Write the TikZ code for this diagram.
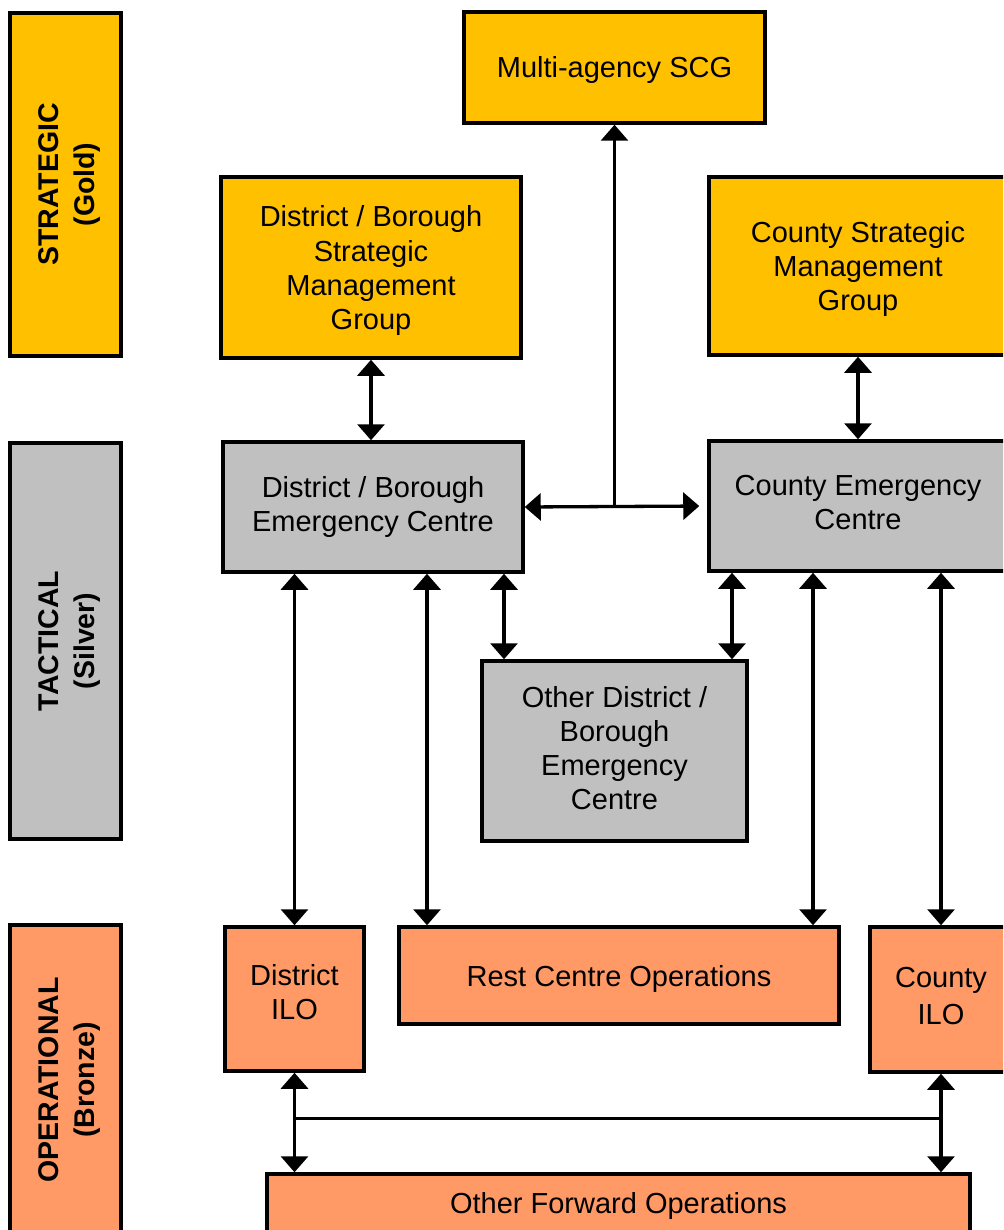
\documentclass[tikz,border=0pt]{standalone}
\usepackage{fontspec}
\setmainfont{Liberation Sans}
\usetikzlibrary{arrows.meta,calc}
\definecolor{goldc}{HTML}{FFC000}
\definecolor{silverc}{HTML}{C0C0C0}
\definecolor{bronzec}{HTML}{FF9966}
\newcommand{\topstrut}{\rule{0pt}{28pt}}
\tikzset{
  box/.style={draw=black, line width=3.5pt, rectangle, align=center, inner sep=0pt,
    font=\fontsize{29}{34}\selectfont,
    execute at begin node={\rule{0pt}{28pt}},
    execute at end node={\rule[-7pt]{0pt}{0pt}}},
  goldbox/.style={box, fill=goldc},
  silverbox/.style={box, fill=silverc},
  bronzebox/.style={box, fill=bronzec},
  tierbox/.style={draw=black, line width=3.5pt, rectangle, inner sep=0pt, minimum width=111pt},
  tierlabel/.style={xshift=4pt, rotate=90, align=center, inner sep=0pt,
    font=\fontsize{28.5}{36}\selectfont\bfseries},
  link/.style={line width=3.3pt, draw=black},
  biarrow/.style={link, {Triangle[width=27pt,length=16pt]}-{Triangle[width=27pt,length=16pt]}},
  uparrow/.style={link, -{Triangle[width=27pt,length=16pt]}}
}
\begin{document}
\begin{tikzpicture}[x=1pt,y=-1pt]
\useasboundingbox (0,0) rectangle (1003,1230);
\clip (0,0) rectangle (1003,1230);
% tier labels
\node[tierbox, fill=goldc, minimum height=343pt] (strat) at (65.5,184.5) {};
\node[tierlabel] (stratlbl) at (strat.center) {STRATEGIC\\(Gold)};
\node[tierbox, fill=silverc, minimum height=396pt] (tact) at (65.5,641) {};
\node[tierlabel] (tactlbl) at (tact.center) {TACTICAL\\(Silver)};
\node[tierbox, fill=bronzec, minimum height=310pt] (oper) at (65.5,1080) {};
\node[tierlabel] (operlbl) at (oper.center) {OPERATIONAL\\(Bronze)};
% gold
\node[goldbox, minimum width=301pt, minimum height=111pt] (scg) at (614.5,67.5) {Multi-agency SCG};
\node[goldbox, minimum width=300pt, minimum height=181pt] (dbsmg) at (371,267.5) {\topstrut District / Borough\\Strategic\\Management\\Group};
\node[goldbox, minimum width=298pt, minimum height=178pt] (csmg) at (858,266) {\topstrut County Strategic\\Management\\Group};
% silver
\node[silverbox, minimum width=300pt, minimum height=130pt] (dbec) at (373,507) {District / Borough\\Emergency Centre};
\node[silverbox, minimum width=298pt, minimum height=130pt] (cec) at (858,506) {County Emergency\\Centre};
\node[silverbox, minimum width=265pt, minimum height=180pt] (odbec) at (614.5,751) {Other District /\\Borough\\Emergency\\Centre};
% bronze
\node[bronzebox, minimum width=139pt, minimum height=144pt,
  execute at end node={\rule[-14pt]{0pt}{0pt}}] (dilo) at (294.5,999) {District\\ILO};
\node[bronzebox, minimum width=440pt, minimum height=97pt] (rest) at (619,975.5) {Rest Centre Operations};
\node[bronzebox, minimum width=142pt, minimum height=145pt, font=\fontsize{29}{37}\selectfont,
  execute at end node={\rule[-5pt]{0pt}{0pt}}] (cilo) at (941,999.5) {County\\ILO};
\node[bronzebox, minimum width=703pt, minimum height=58pt] (ofo) at (618.5,1203) {Other Forward Operations};
% connectors
\draw[biarrow, shorten >=8pt] (dbec.east) -- (cec.west);
\coordinate (junc) at (dbec.east -| scg.south);
\draw[uparrow] (junc) -- (scg.south);
\draw[biarrow] (dbsmg.south) -- (dbsmg.south |- dbec.north);
\draw[biarrow] (csmg.south) -- (csmg.south |- cec.north);
\draw[biarrow] (dilo.north |- dbec.south) -- (dilo.north);
\draw[biarrow] ([xshift=54pt]dbec.south) -- ([xshift=-192pt]rest.north);
\draw[biarrow] ([xshift=131pt]dbec.south) -- ([xshift=-110.5pt]odbec.north);
\draw[biarrow] ([xshift=-126pt]cec.south) -- ([xshift=117.5pt]odbec.north);
\draw[biarrow] ([xshift=-45pt]cec.south) -- ([xshift=194pt]rest.north);
\draw[biarrow] (cilo.north |- cec.south) -- (cilo.north);
\draw[biarrow] (dilo.south) -- (dilo.south |- ofo.north);
\draw[biarrow] (cilo.south) -- (cilo.south |- ofo.north);
\coordinate (busl) at ($(dilo.south)!0.46!(dilo.south |- ofo.north)$);
\coordinate (busr) at (busl -| cilo.south);
\draw[link] (busl) -- (busr);
\end{tikzpicture}
\end{document}
